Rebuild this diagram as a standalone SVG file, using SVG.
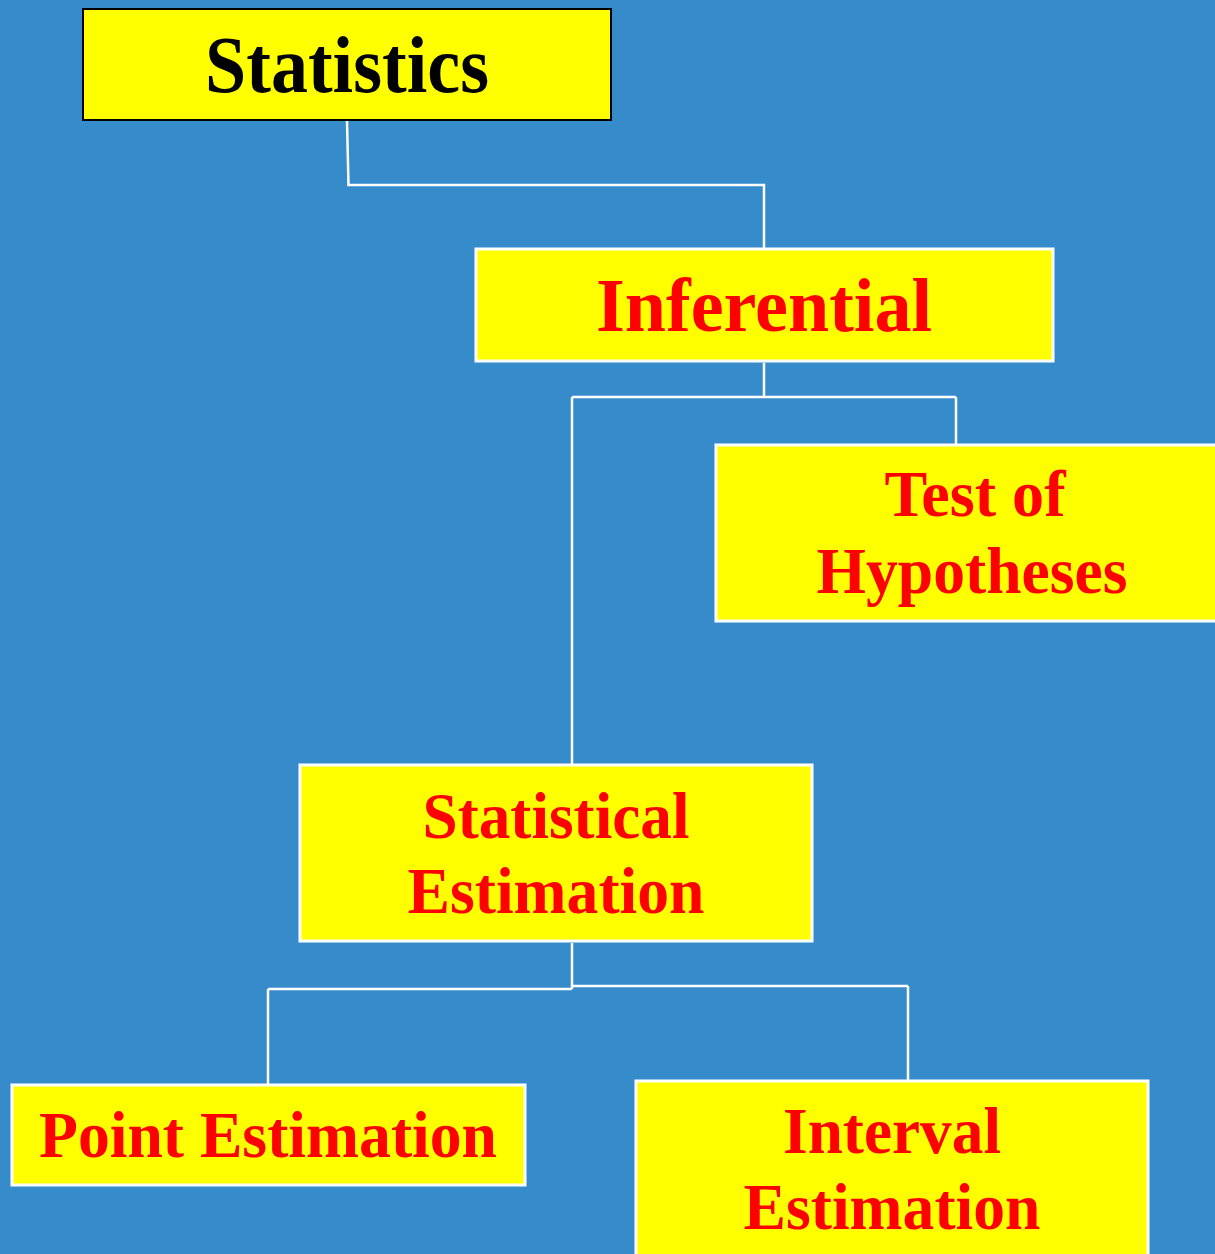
<svg xmlns="http://www.w3.org/2000/svg" width="1215" height="1254" viewBox="0 0 1215 1254">
<style>
.box{fill:#FFFF00;stroke:#FFFFFF;stroke-width:3}
.root{fill:#FFFF00;stroke:#000000;stroke-width:2}
.t{font-family:"Liberation Serif","Times New Roman",serif;font-weight:bold;text-anchor:middle;fill:#FF0000}
.tb{fill:#000000}
.conn{fill:none;stroke:#FFFFFF;stroke-width:2.5}
</style>
<rect x="0" y="0" width="1215" height="1254" fill="#368CCB"/>
<g id="connectors">
<path class="conn" d="M347 121 L348.5 185 L764 185 L764 248"/>
<path class="conn" d="M764 363 L764 397 M572 397 L956 397 M956 397 L956 445 M572 397 L572 765"/>
<path class="conn" d="M572 943 L572 989 M268 989 L572 989 M572 986 L908 986 M908 986 L908 1081 M268 989 L268 1085"/>
</g>
<g id="statistics">
<rect class="root" x="83" y="9" width="528" height="111"/>
<text class="t tb" x="347" y="92" font-size="80" textLength="284" lengthAdjust="spacingAndGlyphs">Statistics</text>
</g>
<g id="inferential">
<rect class="box" x="476" y="249" width="577" height="112"/>
<text class="t" x="764" y="331" font-size="76" textLength="336" lengthAdjust="spacingAndGlyphs">Inferential</text>
</g>
<g id="test-of-hypotheses">
<rect class="box" x="716" y="445" width="510" height="176"/>
<text class="t" x="975" y="516" font-size="65" textLength="181" lengthAdjust="spacingAndGlyphs">Test of</text>
<text class="t" x="972" y="593" font-size="65" textLength="311" lengthAdjust="spacingAndGlyphs">Hypotheses</text>
</g>
<g id="statistical-estimation">
<rect class="box" x="300" y="765" width="512" height="176"/>
<text class="t" x="556" y="838" font-size="66" textLength="267" lengthAdjust="spacingAndGlyphs">Statistical</text>
<text class="t" x="556" y="913" font-size="66" textLength="297" lengthAdjust="spacingAndGlyphs">Estimation</text>
</g>
<g id="point-estimation">
<rect class="box" x="12" y="1085" width="513" height="100"/>
<text class="t" x="268" y="1157" font-size="66" textLength="458" lengthAdjust="spacingAndGlyphs">Point Estimation</text>
</g>
<g id="interval-estimation">
<rect class="box" x="636" y="1081" width="512" height="190"/>
<text class="t" x="892" y="1153" font-size="66" textLength="218" lengthAdjust="spacingAndGlyphs">Interval</text>
<text class="t" x="892" y="1229" font-size="66" textLength="297" lengthAdjust="spacingAndGlyphs">Estimation</text>
</g>
</svg>
